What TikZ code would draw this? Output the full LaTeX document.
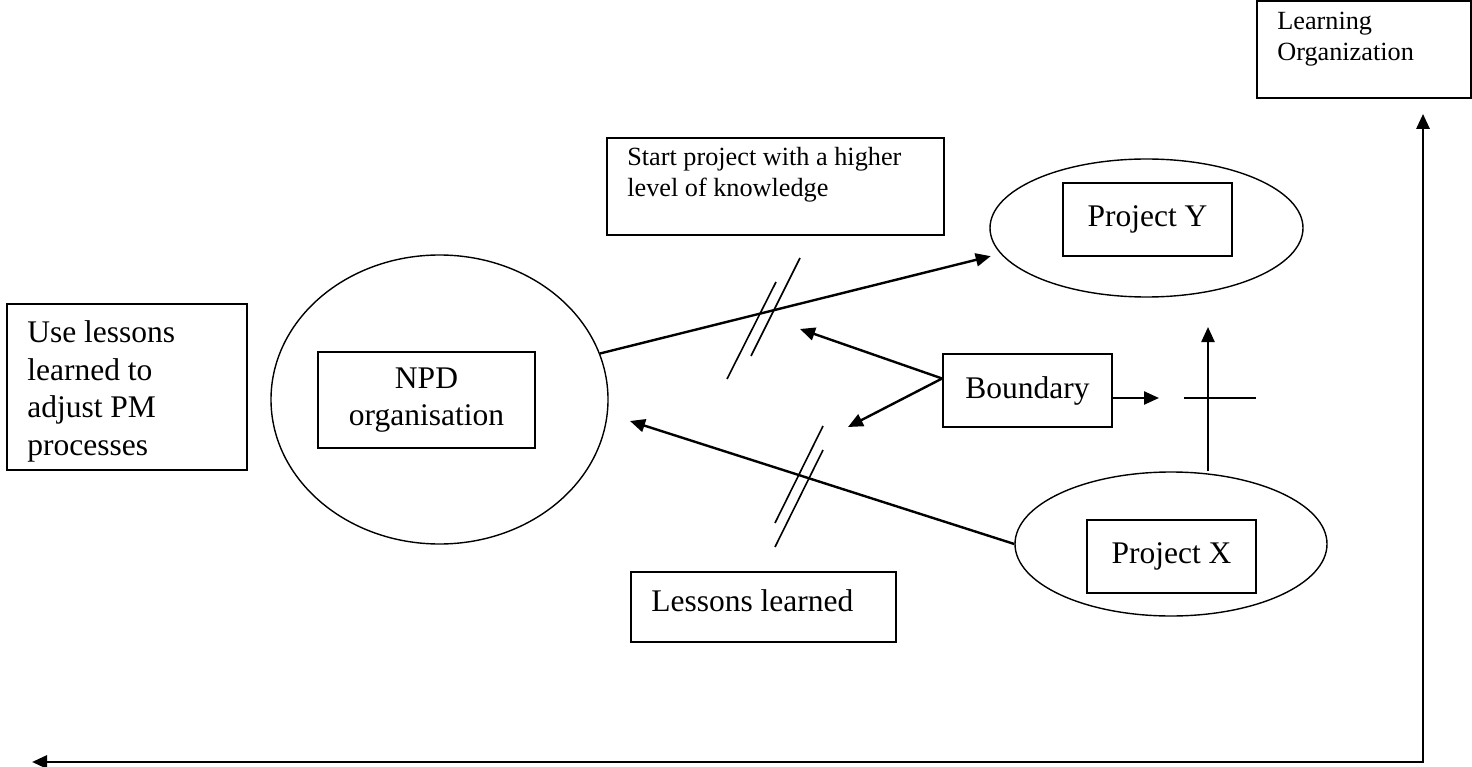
\documentclass[tikz,border=0pt]{standalone}
\usepackage{fontspec}
\setmainfont{Liberation Serif}
\usetikzlibrary{arrows.meta, positioning, shapes.geometric, calc}

\tikzset{
  box/.style={draw, line width=1.8pt, inner sep=0pt},
  blob/.style={draw, ellipse, line width=1.4pt, inner sep=0pt},
  note/.style={align=left, anchor=north west, inner sep=0pt},
  big/.style={font=\fontsize{31.5}{37.5}\selectfont},
  small/.style={font=\fontsize{26.25}{31}\selectfont},
  link/.style={line width=2.4pt, -{Triangle[length=15pt, width=13pt]}},
  cut/.style={line width=1.6pt}
}

\begin{document}
\begin{tikzpicture}[x=1pt, y=-1pt]
    \useasboundingbox (0,0) rectangle (1472,767);

    % Ellipses
    \node[blob, minimum width=337, minimum height=289] (npd) at (439.5,399.5) {};
    \node[blob, minimum width=313, minimum height=138] (projy) at (1146.5,228) {};
    \node[blob, minimum width=312, minimum height=144] (projx) at (1171,544) {};

    % Boxes inside the ellipses
    \node[box, big, align=center, minimum width=217, minimum height=96] (npdbox) at (426.5,400) {NPD\\organisation};
    \node[box, big, minimum width=169, minimum height=73] (ybox) at (1147.5,219.5) {Project Y};
    \node[box, big, minimum width=169, minimum height=73] (xbox) at (1171.5,556.5) {Project X};
    \node[box, big, minimum width=169, minimum height=73] (bnd) at (1027.5,390.5) {Boundary};

    % Text boxes
    \node[box, minimum width=337, minimum height=97] (startbox) at (775.5,186.5) {};
    \node[note, small] (starttxt) at ($(startbox.north west)+(21,10)$) {Start project with a higher\\level of knowledge};
    \node[box, minimum width=240, minimum height=166] (usebox) at (127,387) {};
    \node[note, big] (usetxt) at ($(usebox.north west)+(21,17.5)$) {Use lessons\\learned to\\adjust PM\\processes};
    \node[box, minimum width=265, minimum height=70] (lessbox) at (763.5,607) {};
    \node[note, big] (lesstxt) at ($(lessbox.north west)+(21,18.5)$) {Lessons learned};
    \node[box, minimum width=214, minimum height=97] (lorg) at (1364,49.5) {};
    \node[note, small] (lorgtxt) at ($(lorg.north west)+(21,12)$) {Learning\\Organization};

    % Free ends
    \coordinate (uptip) at (800,329);
    \coordinate (lowtip) at (848,427);
    \coordinate (lltip) at (630,421);
    \coordinate (crossc) at (1208,398);
    \coordinate (crosstop) at (1208,327);
    \coordinate (crossl) at (1184,398);
    \coordinate (crossr) at (1256,398);
    \coordinate (bndtip) at (1159,398);
    \coordinate (fbleft) at (32,762);
    \coordinate (fbcorner) at (1423,762);

    % Connectors
    \draw[link, shorten >=10pt] (npd.16) -- (projy.190);
    \draw[link] (projx.west) -- (lltip);
    \draw[link] (bnd.172) -- (uptip);
    \draw[link] (bnd.172) -- (lowtip);
    \draw[link] (bnd.east |- crossc) -- (bndtip);
    \draw[link] (projx.north -| crossc) -- (crosstop);
    \draw[line width=2.4pt] (crossl) -- (crossr);

    % Break marks
    \draw[cut] (727,379) -- (776,282);
    \draw[cut] (751,356) -- (800,258);
    \draw[cut] (775,523) -- (823,426);
    \draw[cut] (775,547) -- (823,450);

    % Feedback loop
    \draw[line width=2.8pt, {Triangle[length=15pt, width=13pt]}-{Triangle[length=15pt, width=13pt]}, shorten >=15pt]
        (fbleft) -- (fbcorner) -- (fbcorner |- lorg.south);
\end{tikzpicture}
\end{document}
